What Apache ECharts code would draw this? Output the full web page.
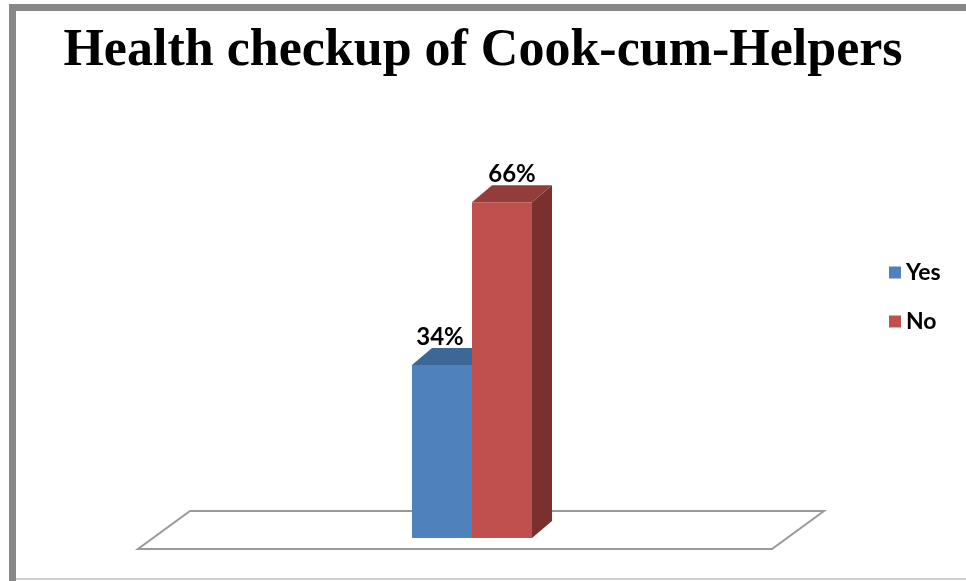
<!DOCTYPE html>
<html>
<head>
<meta charset="utf-8">
<script src="https://cdn.jsdelivr.net/npm/echarts@6/dist/echarts.min.js"></script>
<style>
  html, body { margin: 0; padding: 0; background: #fff; }
  #chart { width: 966px; height: 581px; }
</style>
</head>
<body>
<div id="chart"></div>
<script>
// data
var categories = ['Cook-cum-Helpers'];
var seriesNames = ['Yes', 'No'];
var yesValues = [34];
var noValues = [66];

// 3d look
var barW = 60;
var depthX = 20, depthY = 17;
var colors = {
  Yes: { front: '#4F81BD', top: '#3D6794', side: '#35587f' },
  No: { front: '#C0504D', top: '#923D3B', side: '#7A302E' }
};

function barRenderer(slot, c) {
  return function (params, api) {
    var base = api.coord([api.value(0), 0]);
    var top = api.coord([api.value(0), api.value(1)]);
    var x0 = slot === 0 ? base[0] - barW : base[0];
    var x1 = x0 + barW;
    var yt = top[1], yb = base[1];
    var labelShift = slot === 0 ? -2 : 10;
    return {
      type: 'group',
      children: [
        { type: 'polygon', shape: { points: [[x1, yt], [x1 + depthX, yt - depthY], [x1 + depthX, yb - depthY], [x1, yb]] }, style: { fill: c.side } },
        { type: 'polygon', shape: { points: [[x0, yt], [x1, yt], [x1 + depthX, yt - depthY], [x0 + depthX, yt - depthY]] }, style: { fill: c.top } },
        { type: 'rect', shape: { x: x0, y: yt, width: barW, height: yb - yt }, style: { fill: c.front } },
        { type: 'text', x: (x0 + x1) / 2 + labelShift, y: yt - depthY + 1,
          style: { text: api.value(1) + '%', fill: '#000', font: 'bold 24px Lato', align: 'center', verticalAlign: 'bottom' } }
      ]
    };
  };
}

function floorRenderer(params, api) {
  var cs = params.coordSys;
  var y0 = api.coord([0, 0])[1];
  var l = cs.x, r = cs.x + cs.width;
  return {
    type: 'polygon',
    shape: { points: [[l - 17, y0 + 11], [r - 17, y0 + 11], [r + 35, y0 - 27], [l + 35, y0 - 27]] },
    style: { fill: '#fff', stroke: '#9a9a9a', lineWidth: 2 }
  };
}

var chart = echarts.init(document.getElementById('chart'));
chart.setOption({
  animation: false,
  title: {
    text: 'Health checkup of Cook-cum-Helpers',
    left: 'center',
    top: 21,
    textStyle: { fontFamily: 'Liberation Serif', fontWeight: 'bold', fontSize: 52, color: '#000' }
  },
  graphic: [
    { type: 'rect', shape: { x: 9, y: 4, width: 957, height: 7 }, style: { fill: '#888' } },
    { type: 'rect', shape: { x: 9, y: 4, width: 7, height: 577 }, style: { fill: '#888' } },
    { type: 'rect', shape: { x: 16, y: 578, width: 950, height: 2 }, style: { fill: '#d0d0d0' } }
  ],
  legend: {
    data: seriesNames,
    orient: 'vertical',
    left: 884,
    top: 256,
    itemWidth: 12,
    itemHeight: 12,
    itemGap: 26,
    icon: 'rect',
    textStyle: { fontFamily: 'Lato', fontWeight: 'bold', fontSize: 23, color: '#000', lineHeight: 22 }
  },
  grid: { left: 155, right: 177, top: 182, bottom: 43 },
  xAxis: { type: 'category', data: categories, show: false },
  yAxis: { type: 'value', min: 0, max: 70, interval: 10, show: false },
  series: [
    { type: 'custom', name: 'floor', silent: true, renderItem: floorRenderer, data: [[0, 0]] },
    { type: 'custom', name: 'Yes', itemStyle: { color: colors.Yes.front }, renderItem: barRenderer(0, colors.Yes),
      data: categories.map(function (c, i) { return [i, yesValues[i]]; }) },
    { type: 'custom', name: 'No', itemStyle: { color: colors.No.front }, renderItem: barRenderer(1, colors.No),
      data: categories.map(function (c, i) { return [i, noValues[i]]; }) }
  ]
});
</script>
</body>
</html>
